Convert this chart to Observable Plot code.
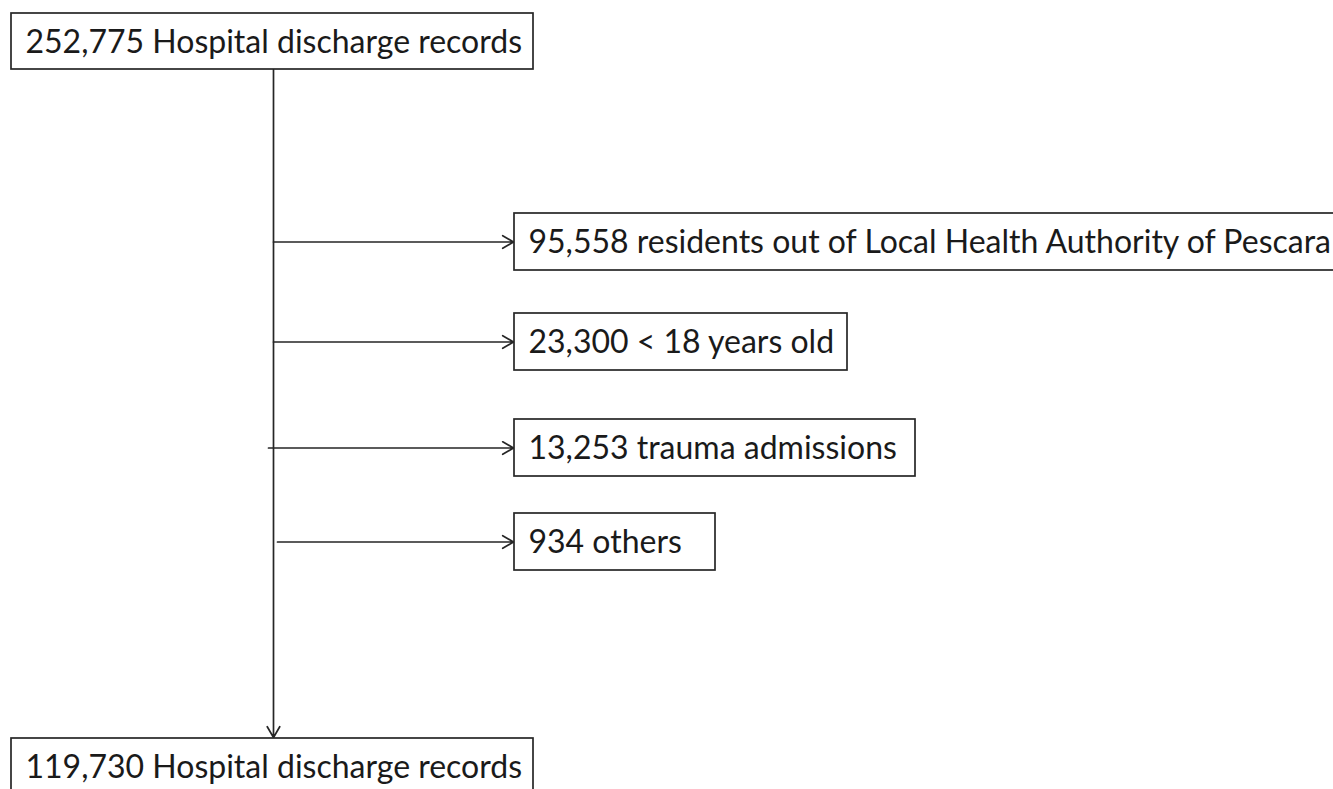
<!DOCTYPE html>
<html>
<head>
<meta charset="utf-8">
<script src="https://cdn.jsdelivr.net/npm/d3@7"></script>
<script src="https://cdn.jsdelivr.net/npm/@observablehq/plot@0.6"></script>
<style>
  html, body { margin: 0; padding: 0; background: #fff; overflow: hidden; }
</style>
</head>
<body>
<div id="chart"></div>
<script>
// ---- data ----
const flowLabel = "Hospital discharge records";
const startCount = 252775;
const endCount = 119730;
const excludedCounts = [95558, 23300, 13253, 934];
const excludedLabels = [
  "residents out of Local Health Authority of Pescara",
  "< 18 years old",
  "trauma admissions",
  "others"
];

// ---- layout (pixels) ----
const W = 1333, H = 789;
const fmt = d3.format(",");
const stemX = 273;
const mainBox = {x1: 11, x2: 533, h: 56};
const topY = 13, bottomY = 738;
const sideX1 = 514;
const sideTop = [213, 313, 419, 513];
const sideRight = [1345, 847, 915, 715];
const arrowStart = [273, 273, 268, 277];
const sideH = 57;
const pad = 14;

const mainBoxes = [
  {x1: mainBox.x1, x2: mainBox.x2, y1: topY, y2: topY + mainBox.h, label: `${fmt(startCount)} ${flowLabel}`},
  {x1: mainBox.x1, x2: mainBox.x2, y1: bottomY, y2: bottomY + mainBox.h, label: `${fmt(endCount)} ${flowLabel}`}
];
const sideBoxes = excludedCounts.map((c, i) => ({
  x1: sideX1, x2: sideRight[i], y1: sideTop[i], y2: sideTop[i] + sideH,
  label: `${fmt(c)} ${excludedLabels[i]}`,
  ax1: arrowStart[i]
}));
const boxes = mainBoxes.concat(sideBoxes);

const stroke = "#262626";
const font = "Lato, 'Open Sans', sans-serif";

const chart = Plot.plot({
  width: W, height: H,
  margin: 0,
  x: {domain: [0, W], range: [0, W], axis: null},
  y: {domain: [0, H], range: [0, H], axis: null},
  style: {background: "#fff", overflow: "hidden"},
  marks: [
    // main vertical flow arrow
    Plot.arrow([mainBoxes], {
      x1: () => stemX, y1: d => d[0].y2,
      x2: () => stemX, y2: d => d[1].y1 - 1,
      stroke, strokeWidth: 1.7, headLength: 11, headAngle: 60
    }),
    // exclusion arrows
    Plot.arrow(sideBoxes, {
      x1: "ax1", y1: d => (d.y1 + d.y2) / 2,
      x2: d => d.x1 - 1, y2: d => (d.y1 + d.y2) / 2,
      stroke, strokeWidth: 1.7, headLength: 11, headAngle: 60
    }),
    Plot.rect(boxes, {
      x1: "x1", x2: "x2", y1: "y1", y2: "y2",
      fill: "#fff", stroke, strokeWidth: 1.7
    }),
    Plot.text(boxes, {
      x: d => d.x1 + pad, y: d => (d.y1 + d.y2) / 2 + 1,
      text: "label", textAnchor: "start", lineAnchor: "middle",
      fontSize: 32, fontFamily: font, fill: "#1a1a1a"
    })
  ]
});
document.getElementById("chart").appendChild(chart);
</script>
</body>
</html>
